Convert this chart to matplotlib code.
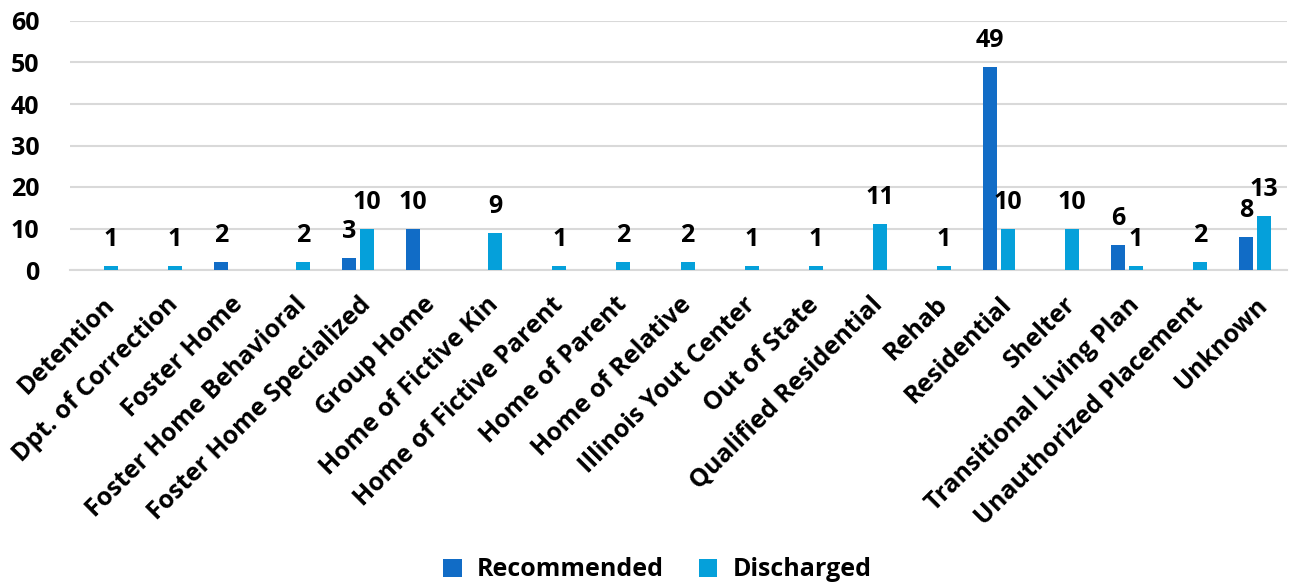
import matplotlib
matplotlib.use("Agg")
import matplotlib.pyplot as plt
import numpy as np

categories = ["Detention", "Dpt. of Correction", "Foster Home", "Foster Home Behavioral",
              "Foster Home Specialized", "Group Home", "Home of Fictive Kin",
              "Home of Fictive Parent", "Home of Parent", "Home of Relative",
              "Illinois Yout Center", "Out of State", "Qualified Residential", "Rehab",
              "Residential", "Shelter", "Transitional Living Plan",
              "Unauthorized Placement", "Unknown"]
recommended = [0, 0, 2, 0, 3, 10, 0, 0, 0, 0, 0, 0, 0, 0, 49, 0, 6, 0, 8]
discharged = [1, 1, 0, 2, 10, 0, 9, 1, 2, 2, 1, 1, 11, 1, 10, 10, 1, 2, 13]
yticks = [0, 10, 20, 30, 40, 50, 60]

c_rec = "#116CC6"
c_dis = "#05A0DA"

plt.rcParams['font.family'] = ['Open Sans', 'DejaVu Sans']
plt.rcParams['font.weight'] = 'bold'
FS = 18

fig = plt.figure(figsize=(12.96, 5.86), dpi=100)
ax = fig.add_axes([70/1296, 1-270/586, (1287-70)/1296, (270-21)/586])

x = np.arange(len(categories))
w = 14/64
off = 9/64
b1 = ax.bar(x - off, recommended, w, color=c_rec, label="Recommended", zorder=3)
b2 = ax.bar(x + off, discharged, w, color=c_dis, label="Discharged", zorder=3)

for bars, vals in ((b1, recommended), (b2, discharged)):
    for r, v in zip(bars, vals):
        if v > 0:
            ax.annotate(str(v), (r.get_x() + r.get_width()/2, v),
                        xytext=(0, 10), textcoords='offset points',
                        ha='center', va='bottom', fontsize=FS, fontweight='bold')

ax.set_xlim(-0.5, len(categories) - 0.5)
ax.set_ylim(0, 60)
ax.set_yticks(yticks)
ax.set_yticklabels([str(t) for t in yticks], fontsize=FS, fontweight='bold')
ax.grid(axis='y', color='#D9D9D9', linewidth=1.5, zorder=0)
for s in ['top', 'right', 'left']:
    ax.spines[s].set_visible(False)
ax.spines['bottom'].set_color('#D9D9D9')
ax.spines['bottom'].set_linewidth(1.5)
ax.tick_params(axis='both', length=0)
ax.tick_params(axis='y', pad=22)
ax.tick_params(axis='x', pad=16)
ax.set_xticks(x)
ax.set_xticklabels(categories, rotation=45, ha='right', rotation_mode='anchor',
                   fontsize=FS, fontweight='bold')

fig.legend(handles=[b1, b2], loc='center', bbox_to_anchor=(0.507, 1-570/586),
           ncol=2, frameon=False, prop={'size': FS, 'weight': 'bold'},
           handlelength=0.75, handleheight=0.75, columnspacing=1.4, handletextpad=0.6)

fig.savefig("out.png", dpi=100)
